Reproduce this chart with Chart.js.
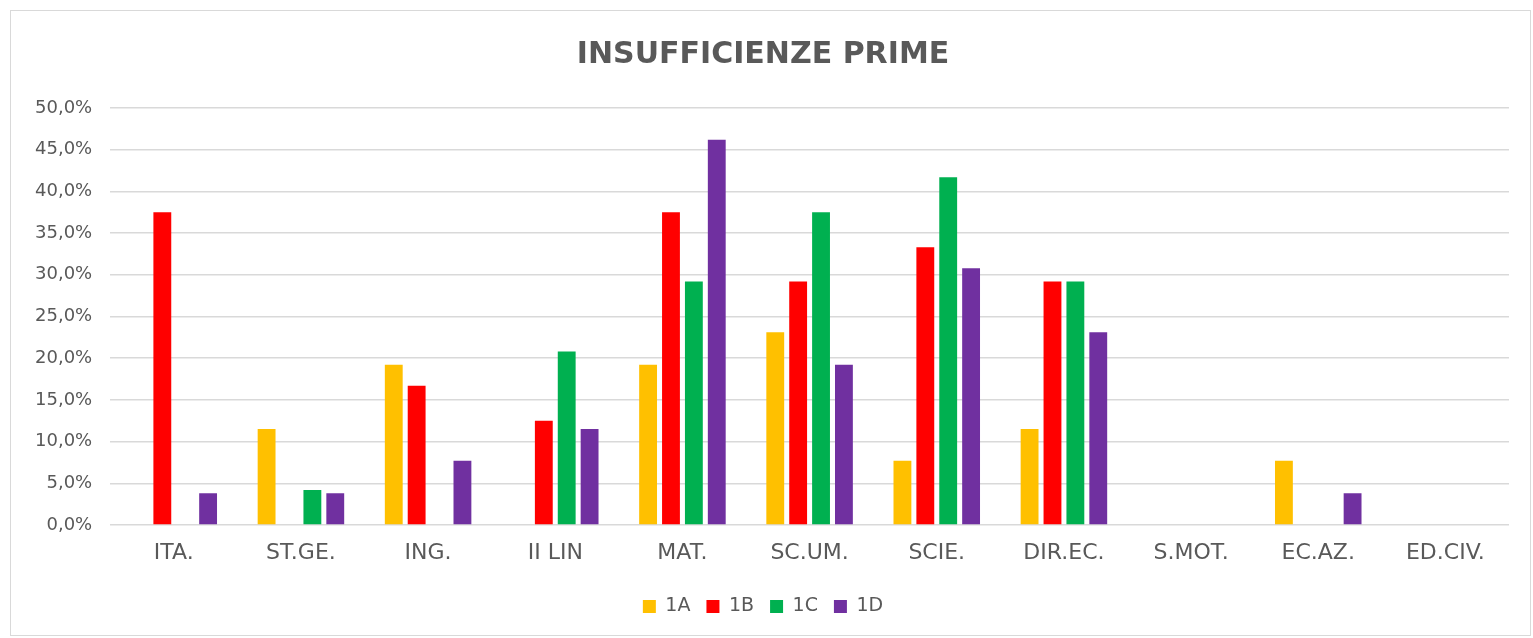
<!DOCTYPE html>
<html>
<head>
<meta charset="utf-8">
<script src="https://cdn.jsdelivr.net/npm/chart.js@4"></script>
<style>
    body { margin: 0; background: #fff; }
    #box {
        position: absolute; left: 10px; top: 10px;
        width: 1521px; height: 626px;
        border: 1px solid #d9d9d9; box-sizing: border-box;
    }
</style>
</head>
<body>
<div id="box"><canvas id="chart-bars"></canvas></div>
<script>
const categories = ['ITA.', 'ST.GE.', 'ING.', 'II LIN', 'MAT.', 'SC.UM.', 'SCIE.', 'DIR.EC.', 'S.MOT.', 'EC.AZ.', 'ED.CIV.'];
const classes = ['1A', '1B', '1C', '1D'];
const values1A = [0, 11.5, 19.2, 0, 19.2, 23.1, 7.7, 11.5, 0, 7.7, 0];
const values1B = [37.5, 0, 16.7, 12.5, 37.5, 29.2, 33.3, 29.2, 0, 0, 0];
const values1C = [0, 4.2, 0, 20.8, 29.2, 37.5, 41.7, 29.2, 0, 0, 0];
const values1D = [3.8, 3.8, 7.7, 11.5, 46.2, 19.2, 30.8, 23.1, 0, 3.8, 0];
const colors = ['#FFC000', '#FF0000', '#00B050', '#7030A0'];

const FONT = '"DejaVu Sans", sans-serif';
const TEXT = '#595959';

const seriesValues = [values1A, values1B, values1C, values1D];

new Chart(document.getElementById('chart-bars'), {
    type: 'bar',
    data: {
        labels: categories,
        datasets: classes.map((name, i) => ({
            label: name,
            data: seriesValues[i],
            backgroundColor: colors[i],
            borderWidth: 0,
            categoryPercentage: 0.72,
            barPercentage: 0.78
        }))
    },
    options: {
        responsive: true,
        maintainAspectRatio: false,
        animation: false,
        layout: {
            padding: { left: 6, right: 21, top: 20, bottom: 9 }
        },
        plugins: {
            title: {
                display: true,
                text: 'INSUFFICIENZE PRIME',
                color: TEXT,
                font: { family: FONT, size: 30, weight: 'bold' },
                padding: { top: 6, bottom: 35 }
            },
            legend: {
                position: 'bottom',
                labels: {
                    color: TEXT,
                    font: { family: FONT, size: 19 },
                    boxWidth: 13,
                    boxHeight: 13,
                    padding: 16
                }
            },
            tooltip: { enabled: false }
        },
        scales: {
            y: {
                min: 0,
                max: 50,
                ticks: {
                    stepSize: 5,
                    color: TEXT,
                    padding: 18,
                    font: { family: FONT, size: 18 },
                    callback: v => v.toFixed(1).replace('.', ',') + '%'
                },
                grid: { color: '#d9d9d9', lineWidth: 1.5, drawTicks: false },
                border: { display: false }
            },
            x: {
                ticks: {
                    color: TEXT,
                    padding: 6,
                    font: { family: FONT, size: 22, lineHeight: 2.0 }
                },
                grid: { display: false, drawTicks: false },
                border: { display: false }
            }
        }
    }
});
</script>
</body>
</html>
